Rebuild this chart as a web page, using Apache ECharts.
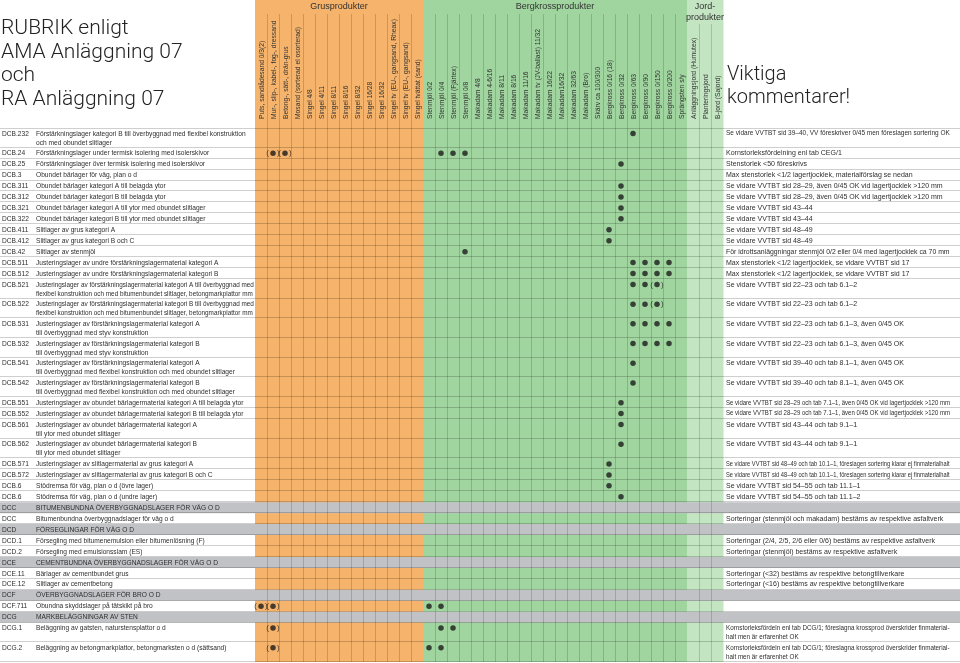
<!DOCTYPE html>
<html><head><meta charset="utf-8">
<script src="https://cdn.jsdelivr.net/npm/echarts@6/dist/echarts.min.js"></script>
<style>html,body{margin:0;padding:0;background:#fff}#c{width:960px;height:663px}</style>
</head><body><div id="c"></div>
<script>
// ---------- DATA ----------
const groupNames = ['Grusprodukter', 'Bergkrossprodukter', 'Jord-\nprodukter'];
const groupSizes = [14, 22, 3];
const columnLabels = [
  'Puts, sandlådesand 0/3(2)', 'Mur-, slip-, kabel-, fog-, dressand', 'Betong-, sätt-, drän-grus',
  'Mosand (sorterad el osorterad)', 'Singel 4/8', 'Singel 4/11', 'Singel 8/11', 'Singel 8/16',
  'Singel 8/32', 'Singel 16/28', 'Singel 16/32', 'Singel tv (EU-, gangsand, Rheax)',
  'Singel tv (EU-, gangsand)', 'Singel tvättat (sand)',
  'Stenmjöl 0/2', 'Stenmjöl 0/4', 'Stenmjöl (Fjärtex)', 'Stenmjöl 0/8', 'Makadam 4/8',
  'Makadam 4-6/16', 'Makadam 8/11', 'Makadam 8/16', 'Makadam 11/16', 'Makadam tv (JV-ballast) 11/32',
  'Makadam 16/22', 'Makadam16/32', 'Makadam 32/63', 'Makadam (Bro)', 'Skärv ca 100/300',
  'Bergkross 0/16 (18)', 'Bergkross 0/32', 'Bergkross 0/63', 'Bergkross 0/90', 'Bergkross 0/150',
  'Bergkross 0/200', 'Sprängsten s/y',
  'Anläggningsjord (Humutex)', 'Planteringsjord', 'B-jord (Sajord)'
];
const rowCodes = [
  'DCB.232', 'DCB.24', 'DCB.25', 'DCB.3', 'DCB.311', 'DCB.312', 'DCB.321', 'DCB.322', 'DCB.411', 'DCB.412',
  'DCB.42', 'DCB.511', 'DCB.512', 'DCB.521', 'DCB.522', 'DCB.531', 'DCB.532', 'DCB.541', 'DCB.542',
  'DCB.551', 'DCB.552', 'DCB.561', 'DCB.562', 'DCB.571', 'DCB.572', 'DCB.6', 'DCB.6',
  'DCC', 'DCC', 'DCD', 'DCD.1', 'DCD.2', 'DCE', 'DCE.11', 'DCE.12', 'DCF', 'DCF.711', 'DCG', 'DCG.1', 'DCG.2'
];
const rowTexts = [
  'Förstärkningslager kategori B till överbyggnad med flexibel konstruktion\noch med obundet slitlager',
  'Förstärkningslager under termisk isolering med isolerskivor',
  'Förstärkningslager över termisk isolering med isolerskivor',
  'Obundet bärlager för väg, plan o d',
  'Obundet bärlager kategori A till belagda ytor',
  'Obundet bärlager kategori B till belagda ytor',
  'Obundet bärlager kategori A till ytor med obundet slitlager',
  'Obundet bärlager kategori B till ytor med obundet slitlager',
  'Slitlager av grus kategori A',
  'Slitlager av grus kategori B och C',
  'Slitlager av stenmjöl',
  'Justeringslager av undre förstärkningslagermaterial kategori A',
  'Justeringslager av undre förstärkningslagermaterial kategori B',
  'Justeringslager av förstärkningslagermaterial kategori A till överbyggnad med\nflexibel konstruktion och med bitumenbundet slitlager, betongmarkplattor mm',
  'Justeringslager av förstärkningslagermaterial kategori B till överbyggnad med\nflexibel konstruktion och med bitumenbundet slitlager, betongmarkplattor mm',
  'Justeringslager av förstärkningslagermaterial kategori A\ntill överbyggnad med styv konstruktion',
  'Justeringslager av förstärkningslagermaterial kategori B\ntill överbyggnad med styv konstruktion',
  'Justeringslager av förstärkningslagermaterial kategori A\ntill överbyggnad med flexibel konstruktion och med obundet slitlager',
  'Justeringslager av förstärkningslagermaterial kategori B\ntill överbyggnad med flexibel konstruktion och med obundet slitlager',
  'Justeringslager av obundet bärlagermaterial kategori A till belagda ytor',
  'Justeringslager av obundet bärlagermaterial kategori B till belagda ytor',
  'Justeringslager av obundet bärlagermaterial kategori A\ntill ytor med obundet slitlager',
  'Justeringslager av obundet bärlagermaterial kategori B\ntill ytor med obundet slitlager',
  'Justeringslager av slitlagermaterial av grus kategori A',
  'Justeringslager av slitlagermaterial av grus kategori B och C',
  'Stödremsa för väg, plan o d (övre lager)',
  'Stödremsa för väg, plan o d (undre lager)',
  'BITUMENBUNDNA ÖVERBYGGNADSLAGER FÖR VÄG O D',
  'Bitumenbundna överbyggnadslager för väg o d',
  'FÖRSEGLINGAR FÖR VÄG O D',
  'Försegling med bitumenemulsion eller bitumenlösning (F)',
  'Försegling med emulsionsslam (ES)',
  'CEMENTBUNDNA ÖVERBYGGNADSLAGER FÖR VÄG O D',
  'Bärlager av cementbundet grus',
  'Slitlager av cementbetong',
  'ÖVERBYGGNADSLAGER FÖR BRO O D',
  'Obundna skyddslager på tätskikt på bro',
  'MARKBELÄGGNINGAR AV STEN',
  'Beläggning av gatsten, naturstensplattor o d',
  'Beläggning av betongmarkplattor, betongmarksten o d (sättsand)'
];
const rowComments = [
  'Se vidare VVTBT sid 39–40, VV föreskriver 0/45 men föreslagen sortering OK',
  'Kornstorleksfördelning enl tab CEG/1',
  'Stenstorlek <50 föreskrivs',
  'Max stenstorlek <1/2 lagertjocklek, materialförslag se nedan',
  'Se vidare VVTBT sid 28–29, även 0/45 OK vid lagertjocklek >120 mm',
  'Se vidare VVTBT sid 28–29, även 0/45 OK vid lagertjocklek >120 mm',
  'Se vidare VVTBT sid 43–44',
  'Se vidare VVTBT sid 43–44',
  'Se vidare VVTBT sid 48–49',
  'Se vidare VVTBT sid 48–49',
  'För idrottsanläggningar stenmjöl 0/2 eller 0/4 med lagertjocklek ca 70 mm',
  'Max stenstorlek <1/2 lagertjocklek, se vidare VVTBT sid 17',
  'Max stenstorlek <1/2 lagertjocklek, se vidare VVTBT sid 17',
  'Se vidare VVTBT sid 22–23 och tab 6.1–2',
  'Se vidare VVTBT sid 22–23 och tab 6.1–2',
  'Se vidare VVTBT sid 22–23 och tab 6.1–3, även 0/45 OK',
  'Se vidare VVTBT sid 22–23 och tab 6.1–3, även 0/45 OK',
  'Se vidare VVTBT sid 39–40 och tab 8.1–1, även 0/45 OK',
  'Se vidare VVTBT sid 39–40 och tab 8.1–1, även 0/45 OK',
  'Se vidare VVTBT sid 28–29 och tab 7.1–1, även 0/45 OK vid lagertjocklek >120 mm',
  'Se vidare VVTBT sid 28–29 och tab 7.1–1, även 0/45 OK vid lagertjocklek >120 mm',
  'Se vidare VVTBT sid 43–44 och tab 9.1–1',
  'Se vidare VVTBT sid 43–44 och tab 9.1–1',
  'Se vidare VVTBT sid 48–49 och tab 10.1–1, föreslagen sortering klarar ej finmaterialhalt',
  'Se vidare VVTBT sid 48–49 och tab 10.1–1, föreslagen sortering klarar ej finmaterialhalt',
  'Se vidare VVTBT sid 54–55 och tab 11.1–1',
  'Se vidare VVTBT sid 54–55 och tab 11.1–2',
  '',
  'Sorteringar (stenmjöl och makadam) bestäms av respektive asfaltverk',
  '',
  'Sorteringar (2/4, 2/5, 2/6 eller 0/6) bestäms av respektive asfaltverk',
  'Sorteringar (stenmjöl) bestäms av respektive asfaltverk',
  '',
  'Sorteringar (<32) bestäms av respektive betongtillverkare',
  'Sorteringar (<16) bestäms av respektive betongtillverkare',
  '',
  '',
  '',
  'Kornstorleksfördeln enl tab DCG/1; föreslagna krossprod överskrider finmaterial-\nhalt men är erfarenhet OK',
  'Kornstorleksfördeln enl tab DCG/1; föreslagna krossprod överskrider finmaterial-\nhalt men är erfarenhet OK'
];
const sectionRows = [27, 29, 32, 35, 37];
// [row, column]
const dots = [
  [0, 31], [1, 15], [1, 16], [1, 17], [2, 30], [4, 30], [5, 30], [6, 30], [7, 30],
  [8, 29], [9, 29], [10, 17],
  [11, 31], [11, 32], [11, 33], [11, 34], [12, 31], [12, 32], [12, 33], [12, 34],
  [13, 31], [13, 32], [14, 31], [14, 32],
  [15, 31], [15, 32], [15, 33], [15, 34], [16, 31], [16, 32], [16, 33], [16, 34],
  [17, 31], [18, 31], [19, 30], [20, 30], [21, 30], [22, 30],
  [23, 29], [24, 29], [25, 29], [26, 30],
  [36, 14], [36, 15], [38, 15], [38, 16], [39, 14], [39, 15]
];
const parenDots = [[1, 1], [1, 2], [13, 33], [14, 33], [36, 0], [36, 1], [38, 1], [39, 1]];

// ---------- LAYOUT DERIVED FROM DATA ----------
const FONT = '"Liberation Sans Narrow", "Arial Narrow", sans-serif';
const LH = 9;
const SX_LEFT = 0.85, SX_RIGHT = 0.9, SX_HEAD = 0.86;
const groupColors = ['#f5b36b', '#a0d59f', '#c3e5c2'];
const colGroup = [];
groupSizes.forEach((n, g) => { for (let k = 0; k < n; k++) colGroup.push(g); });
const groupStart = groupSizes.map((_, g) => groupSizes.slice(0, g).reduce((a, b) => a + b, 0));
const rowLines = rowCodes.map((_, i) => Math.max(rowTexts[i].split('\n').length, rowComments[i].split('\n').length));
const rowHeight = rowLines.map(n => n === 1 ? 1 : 1.8);
const rowTop = [];
let acc = 0;
rowHeight.forEach(h => { rowTop.push(acc); acc += h; });
const totalUnits = acc;
const isSection = rowCodes.map((_, i) => sectionRows.includes(i));

const mctx = document.createElement('canvas').getContext('2d');
function fitSize(text, base, maxW, sx) {
  mctx.font = base + 'px ' + FONT;
  const w = sx * Math.max(0, ...text.split('\n').map(t => mctx.measureText(t).width));
  return w > maxW ? base * maxW / w : base;
}

const chart = echarts.init(document.getElementById('c'), null, { renderer: 'canvas' });
const GL = 255, GW = 468, HT = 128;

function colRect(api, c) {
  const x = api.coord([c, 0])[0];
  const w = api.size([1, 0])[0];
  return [x - w / 2, w];
}

const titleFont = { fontFamily: 'Roboto, "Liberation Sans", sans-serif', fontWeight: 300, lineHeight: 23.5, color: '#222' };

const option = {
  animation: false,
  backgroundColor: '#fff',
  title: [
    { text: 'RUBRIK enligt\nAMA Anläggning 07\noch\nRA Anläggning 07', left: 1, top: 17, padding: 0,
      textStyle: Object.assign({ fontSize: 21 }, titleFont) },
    { text: 'Viktiga\nkommentarer!', left: 727, top: 63, padding: 0,
      textStyle: Object.assign({ fontSize: 20 }, titleFont) }
  ],
  grid: [
    { left: GL, width: GW, top: 0, height: HT },
    { left: GL, width: GW, top: HT, bottom: 1 }
  ],
  xAxis: [
    { type: 'category', gridIndex: 0, data: columnLabels, position: 'bottom',
      axisLine: { show: false }, axisTick: { show: false }, splitLine: { show: false }, axisLabel: { show: false } },
    { type: 'category', gridIndex: 1, data: columnLabels, show: false }
  ],
  yAxis: [
    { type: 'value', gridIndex: 0, min: 0, max: 1, inverse: true, show: false },
    { type: 'value', gridIndex: 1, min: 0, max: totalUnits, inverse: true, show: false }
  ],
  series: [
    // header column backgrounds + lines + rotated column names
    { type: 'custom', xAxisIndex: 0, yAxisIndex: 0, z: 1, clip: false, silent: true,
      data: columnLabels.map((_, c) => [c]),
      renderItem(params, api) {
        const c = api.value(0);
        const cs = params.coordSys;
        const [x, w] = colRect(api, c);
        const g = colGroup[c];
        const children = [{ type: 'rect', shape: { x: x, y: cs.y, width: w + 0.5, height: cs.height }, style: { fill: groupColors[g] } }];
        if (c > 0 && colGroup[c - 1] === g) {
          const lx = Math.round(x) + 0.5;
          children.push({ type: 'line', shape: { x1: lx, y1: cs.y + (g === 2 ? 24 : 14), x2: lx, y2: cs.y + cs.height }, style: { stroke: 'rgba(0,0,0,0.16)', lineWidth: 1 } });
        }
        children.push({ type: 'text', x: x + w / 2 + 0.5, y: cs.y + cs.height - 9, rotation: Math.PI / 2, scaleX: SX_HEAD, z2: 5,
          style: { text: columnLabels[c], align: 'left', verticalAlign: 'middle', fontSize: 7.8, fontFamily: FONT, fill: '#333' } });
        return { type: 'group', children };
      } },
    // group titles
    { type: 'custom', xAxisIndex: 0, yAxisIndex: 0, z: 3, clip: false, silent: true,
      data: groupNames.map((_, g) => [g]),
      renderItem(params, api) {
        const g = api.value(0);
        const a = colRect(api, groupStart[g]);
        const b = colRect(api, groupStart[g] + groupSizes[g] - 1);
        const cx = (a[0] + b[0] + b[1]) / 2;
        return { type: 'text', x: cx, y: params.coordSys.y + 1,
          style: { text: groupNames[g], align: 'center', verticalAlign: 'top', fontSize: 9, lineHeight: 11,
            fontFamily: '"Liberation Sans", sans-serif', fill: '#333' } };
      } },
    // main column backgrounds
    { type: 'custom', xAxisIndex: 1, yAxisIndex: 1, z: 1, clip: false, silent: true,
      data: columnLabels.map((_, c) => [c]),
      renderItem(params, api) {
        const c = api.value(0);
        const cs = params.coordSys;
        const [x, w] = colRect(api, c);
        return { type: 'rect', shape: { x: x, y: cs.y, width: w + 0.5, height: cs.height }, style: { fill: groupColors[colGroup[c]] } };
      } },
    // rows: section bands, separators, texts
    { type: 'custom', xAxisIndex: 1, yAxisIndex: 1, z: 2, clip: false, silent: true,
      data: rowCodes.map((_, i) => [i]),
      renderItem(params, api) {
        const i = api.value(0);
        const cs = params.coordSys;
        const W = api.getWidth();
        const y0 = api.coord([0, rowTop[i]])[1];
        const y1 = api.coord([0, rowTop[i] + rowHeight[i]])[1];
        const yc = api.coord([0, rowTop[i] + 0.5])[1];
        const children = [];
        if (isSection[i]) children.push({ type: 'rect', shape: { x: 0, y: y0, width: W, height: y1 - y0 }, style: { fill: '#c1c2c6' } });
        const yl = Math.round(y1) - 0.5;
        children.push({ type: 'line', shape: { x1: 0, y1: yl, x2: W, y2: yl }, style: { stroke: 'rgba(0,0,0,0.19)', lineWidth: 1 } });
        if (i === 0) {
          const yt = Math.round(y0) + 0.5;
          children.push({ type: 'line', shape: { x1: 0, y1: yt, x2: W, y2: yt }, style: { stroke: 'rgba(0,0,0,0.19)', lineWidth: 1 } });
        }
        const txt = (text, x, size, sx) => ({ type: 'text', x: x, y: yc - LH / 2, scaleX: sx,
          style: { text: text, align: 'left', verticalAlign: 'top', fontSize: size, lineHeight: LH, fontFamily: FONT, fill: '#2e2e2e' } });
        children.push(txt(rowCodes[i], cs.x - 253, 7.8, SX_LEFT));
        children.push(txt(rowTexts[i], cs.x - 219, fitSize(rowTexts[i], 7.8, 218, SX_LEFT), SX_LEFT));
        const cx = cs.x + cs.width + 3;
        if (rowComments[i]) children.push(txt(rowComments[i], cx, fitSize(rowComments[i], 7.8, W - cx - 10, SX_RIGHT), SX_RIGHT));
        return { type: 'group', children };
      } },
    // column lines over bands
    { type: 'custom', xAxisIndex: 1, yAxisIndex: 1, z: 3, clip: false, silent: true,
      data: columnLabels.map((_, c) => [c]),
      renderItem(params, api) {
        const c = api.value(0);
        const cs = params.coordSys;
        if (c === 0 || colGroup[c - 1] !== colGroup[c]) return null;
        const lx = Math.round(colRect(api, c)[0]) + 0.5;
        return { type: 'line', shape: { x1: lx, y1: cs.y, x2: lx, y2: cs.y + cs.height }, style: { stroke: 'rgba(0,0,0,0.16)', lineWidth: 1 } };
      } },
    // dots
    { type: 'scatter', xAxisIndex: 1, yAxisIndex: 1, z: 5, silent: true,
      symbol: 'circle', symbolSize: 5.5, itemStyle: { color: '#1b1b1b' },
      data: dots.map(([r, c]) => [c, rowTop[r] + 0.5]) },
    { type: 'scatter', xAxisIndex: 1, yAxisIndex: 1, z: 5, silent: true,
      symbol: 'circle', symbolSize: 5.5, itemStyle: { color: '#1b1b1b' },
      label: { show: true, position: 'inside', formatter: '(\u2003)', fontSize: 8, fontFamily: FONT, color: '#1b1b1b' },
      data: parenDots.map(([r, c]) => [c, rowTop[r] + 0.5]) }
  ]
};
chart.setOption(option);
</script>
</body></html>
